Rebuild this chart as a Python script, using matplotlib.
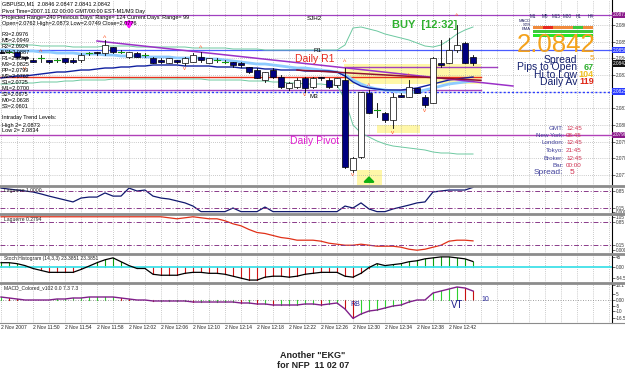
import matplotlib
matplotlib.use("Agg")
import matplotlib.pyplot as plt
from matplotlib.patches import Rectangle
from matplotlib.lines import Line2D

plt.rcParams['font.family'] = ['Liberation Sans', 'DejaVu Sans']

# ---------------- data ----------------
time_labels = ["2 Nov 2007", "2 Nov 11:50", "2 Nov 11:54", "2 Nov 11:58", "2 Nov 12:02",
               "2 Nov 12:06", "2 Nov 12:10", "2 Nov 12:14", "2 Nov 12:18", "2 Nov 12:22",
               "2 Nov 12:26", "2 Nov 12:30", "2 Nov 12:34", "2 Nov 12:38", "2 Nov 12:42"]

opens = [2.0849, 2.0849, 2.0849, 2.0846, 2.0844, 2.0845, 2.0844, 2.0844, 2.0845, 2.0844,
         2.0844, 2.0848, 2.0849, 2.0848, 2.0852, 2.0849, 2.0846, 2.0848, 2.0847, 2.0845,
         2.0844, 2.0842, 2.0844, 2.0842, 2.0843, 2.0846, 2.0842, 2.0844, 2.0843, 2.0843,
         2.0842, 2.0840, 2.0838, 2.0832, 2.0838, 2.0834, 2.0827, 2.0828, 2.0833, 2.0828,
         2.0834, 2.0832, 2.0829, 2.0832, 2.0778, 2.0786, 2.0824, 2.0814, 2.0812, 2.0808,
         2.0823, 2.0822, 2.0827, 2.0822, 2.0818, 2.0842, 2.0842, 2.0850, 2.0854, 2.0846]
highs = [2.0850, 2.0850, 2.0849, 2.0846, 2.0845, 2.0847, 2.0844, 2.0845, 2.0845, 2.0845,
         2.0848, 2.0849, 2.0849, 2.0856, 2.0852, 2.0850, 2.0849, 2.0849, 2.0848, 2.0846,
         2.0845, 2.0845, 2.0844, 2.0846, 2.0848, 2.0849, 2.0845, 2.0845, 2.0844, 2.0843,
         2.0843, 2.0840, 2.0839, 2.0837, 2.0839, 2.0835, 2.0831, 2.0833, 2.0834, 2.0834,
         2.0834, 2.0833, 2.0833, 2.0839, 2.0786, 2.0825, 2.0826, 2.0818, 2.0813, 2.0824,
         2.0824, 2.0832, 2.0827, 2.0823, 2.0846, 2.0856, 2.0857, 2.0865, 2.0855, 2.0847]
lows = [2.0848, 2.0848, 2.0845, 2.0844, 2.0843, 2.0843, 2.0842, 2.0843, 2.0842, 2.0842,
        2.0843, 2.0847, 2.0847, 2.0847, 2.0848, 2.0848, 2.0845, 2.0846, 2.0846, 2.0842,
        2.0842, 2.0842, 2.0842, 2.0841, 2.0843, 2.0843, 2.0842, 2.0843, 2.0842, 2.0840,
        2.0840, 2.0836, 2.0833, 2.0831, 2.0833, 2.0827, 2.0826, 2.0827, 2.0825, 2.0827,
        2.0832, 2.0827, 2.0828, 2.0779, 2.0777, 2.0785, 2.0812, 2.0810, 2.0807, 2.0803,
        2.0822, 2.0822, 2.0824, 2.0816, 2.0818, 2.0840, 2.0842, 2.0849, 2.0842, 2.0841]
closes = [2.0848, 2.0849, 2.0846, 2.0845, 2.0843, 2.0845, 2.0843, 2.0844, 2.0843, 2.0843,
          2.0847, 2.0848, 2.0848, 2.0853, 2.0849, 2.0849, 2.0849, 2.0846, 2.0847, 2.0842,
          2.0843, 2.0845, 2.0843, 2.0845, 2.0847, 2.0844, 2.0845, 2.0844, 2.0843, 2.0841,
          2.0841, 2.0837, 2.0833, 2.0837, 2.0834, 2.0828, 2.0830, 2.0832, 2.0827, 2.0833,
          2.0833, 2.0828, 2.0833, 2.0780, 2.0785, 2.0825, 2.0812, 2.0814, 2.0808, 2.0822,
          2.0822, 2.0828, 2.0824, 2.0817, 2.0845, 2.0841, 2.0850, 2.0853, 2.0842, 2.0842]

ma_navy = [2.08332, 2.08338, 2.08344, 2.08344, 2.08350, 2.08356, 2.08362, 2.08368, 2.08368, 2.08374,
           2.08380, 2.08380, 2.08386, 2.08392, 2.08392, 2.08398, 2.08398, 2.08404, 2.08404, 2.08410,
           2.08410, 2.08410, 2.08410, 2.08404, 2.08404, 2.08404, 2.08404, 2.08398, 2.08398, 2.08398,
           2.08392, 2.08392, 2.08392, 2.08386, 2.08386, 2.08380, 2.08380, 2.08380, 2.08374, 2.08374,
           2.08374, 2.08374, 2.08368, 2.08344, 2.08308, 2.08284, 2.08272, 2.08266, 2.08260, 2.08260,
           2.08260, 2.08266, 2.08272, 2.08284, 2.08296, 2.08308, 2.08320, 2.08326, 2.08332, 2.08338]
ma_light = [2.08500, 2.08500, 2.08494, 2.08494, 2.08494, 2.08488, 2.08488, 2.08482, 2.08482, 2.08482,
            2.08476, 2.08476, 2.08476, 2.08470, 2.08470, 2.08464, 2.08464, 2.08464, 2.08458, 2.08458,
            2.08458, 2.08458, 2.08452, 2.08452, 2.08452, 2.08452, 2.08446, 2.08446, 2.08440, 2.08434,
            2.08428, 2.08422, 2.08416, 2.08416, 2.08410, 2.08404, 2.08398, 2.08392, 2.08392, 2.08386,
            2.08380, 2.08374, 2.08368, 2.08350, 2.08320, 2.08296, 2.08278, 2.08266, 2.08260, 2.08254,
            2.08248, 2.08248, 2.08248, 2.08260, 2.08272, 2.08284, 2.08296, 2.08302, 2.08308, 2.08314]
bb_upper = [2.08536, 2.08536, 2.08530, 2.08530, 2.08530, 2.08524, 2.08524, 2.08524, 2.08524, 2.08518,
            2.08518, 2.08518, 2.08518, 2.08524, 2.08524, 2.08524, 2.08524, 2.08518, 2.08518, 2.08518,
            2.08518, 2.08518, 2.08518, 2.08518, 2.08512, 2.08512, 2.08512, 2.08512, 2.08512, 2.08506,
            2.08506, 2.08506, 2.08506, 2.08500, 2.08500, 2.08500, 2.08500, 2.08500, 2.08500, 2.08500,
            2.08500, 2.08500, 2.08500, 2.08530, 2.08632, 2.08638, 2.08626, 2.08614, 2.08596, 2.08584,
            2.08572, 2.08560, 2.08542, 2.08524, 2.08518, 2.08530, 2.08560, 2.08596, 2.08620, 2.08638]
bb_lower = [2.08296, 2.08296, 2.08302, 2.08302, 2.08302, 2.08308, 2.08308, 2.08308, 2.08314, 2.08314,
            2.08320, 2.08320, 2.08320, 2.08320, 2.08326, 2.08326, 2.08326, 2.08326, 2.08326, 2.08326,
            2.08326, 2.08326, 2.08326, 2.08326, 2.08326, 2.08326, 2.08320, 2.08320, 2.08320, 2.08320,
            2.08320, 2.08314, 2.08314, 2.08314, 2.08308, 2.08308, 2.08302, 2.08302, 2.08296, 2.08296,
            2.08296, 2.08290, 2.08290, 2.08200, 2.08050, 2.08002, 2.07978, 2.07954, 2.07936, 2.07924,
            2.07918, 2.07912, 2.07906, 2.07900, 2.07888, 2.07882, 2.07882, 2.07876, 2.07876, 2.07876]

# horizontal levels: price, first bar, last bar
level_prices = [2.0871, 2.0850, 2.0834, 2.0826, 2.0825, 2.0799, 2.0840]
level_from = [-1, -1, -1, -1, -1, -1, 43]
level_to = [77, 77, 60, 60, 77, 77, 62]
# trend lines (bar, price) endpoints
trend_x = [[12, 64], [37, 60]]
trend_p = [[2.08554, 2.08284], [2.08380, 2.08318]]
# highlighted zones: bar0, bar1, price low, price high
zone_b0 = [42.9, 47.0, 44.5]
zone_b1 = [60.0, 52.4, 47.6]
zone_lo = [2.08296, 2.08002, 2.07690]
zone_hi = [2.08416, 2.08050, 2.07780]
# fractal markers
frac_up_bar = [5, 13, 25, 43, 46, 51, 57]
frac_up_p = [2.08488, 2.08566, 2.08506, 2.08422, 2.08284, 2.08344, 2.08704]
frac_dn_bar = [3, 23, 38, 44, 49, 53]
frac_dn_p = [2.08386, 2.08392, 2.08230, 2.07750, 2.08002, 2.08134]

lag1 = [0.97, 0.93, 0.89, 0.85, 0.81, 0.73, 0.64, 0.56, 0.48, 0.40,
        0.56, 0.60, 0.60, 0.77, 0.64, 0.64, 0.97, 0.85, 0.89, 0.64,
        0.56, 0.52, 0.44, 0.36, 0.23, 0.00, 0.00, 0.00, 0.00, 0.15,
        0.00, 0.00, 0.00, 0.19, 0.00, 0.00, 0.00, 0.00, 0.00, 0.00,
        0.00, 0.00, 0.00, 0.23, 0.15, 0.36, 0.11, 0.00, 0.00, 0.11,
        0.19, 0.27, 0.36, 0.40, 0.81, 0.85, 0.89, 0.89, 0.89, 1.00]
lag2 = [1.00, 1.00, 1.00, 1.00, 1.00, 1.00, 1.00, 1.00, 1.00, 1.00,
        1.00, 1.00, 1.00, 1.00, 1.00, 1.00, 1.00, 1.00, 1.00, 1.00,
        1.00, 0.97, 0.94, 0.97, 1.00, 0.97, 0.94, 0.94, 0.88, 0.79,
        0.73, 0.62, 0.53, 0.50, 0.44, 0.38, 0.35, 0.30, 0.30, 0.30,
        0.27, 0.21, 0.18, 0.15, 0.15, 0.18, 0.15, 0.12, 0.12, 0.12,
        0.09, 0.03, 0.00, 0.03, 0.09, 0.15, 0.27, 0.30, 0.30, 0.28]
stoch = [18, 18, 13.5, 4.5, -9, -18, -27, -27, -27, -27,
         -13.5, 2, 18, 31.5, 40.5, 22.5, 4.5, -9, -9, -36,
         -40.5, -40.5, -40.5, -31.5, -27, -27, -31.5, -31.5, -36, -45,
         -54, -63, -63, -49.5, -45, -45, -49.5, -45, -36, -31.5,
         -27, -27, -27, -45, -49.5, -31.5, -4.5, 13.5, 4.5, 9,
         13.5, 22.5, 27, 36, 40.5, 45, 45, 40.5, 36, 23.4]
macd = [2.7, 1.8, 0.9, 0.0, 0.0, 0.0, 0.0, 0.9, 0.9, 1.8,
        1.8, 2.7, 2.7, 2.7, 2.7, 1.8, 0.9, 0.0, 0.0, -0.9,
        -0.9, -0.9, -0.9, -0.9, -1.8, -1.8, -1.8, -1.8, -1.8, -1.8,
        -2.7, -2.7, -3.6, -3.6, -4.5, -4.5, -4.5, -4.5, -3.6, -3.6,
        -4.5, -3.6, -2.7, -8.1, -16.5, -12.6, -9.9, -9.0, -7.2, -5.4,
        -4.5, -1.8, 0.0, 0.0, 6.3, 8.1, 9.9, 11.7, 10.8, 8.1]

panel_titles = ["Laguerre 1.0000", "Laguerre 0.2794",
                "Stoch Histogram (14,3,3) 23.3851 23.3851", "MACD_Colored_v102 0.0 7.3 7.3"]
tf_names = ["M1", "M5", "M15", "M30", "H1", "H4"]
row_names = ["MACD", "STR", "EMA"]
signal_colors = [["#f08a3c", "#e8281e", "#f08a3c", "#f08a3c", "#3cc83c", "#f08a3c"],
                 ["#3cc83c", "#3cc83c", "#3cc83c", "#3cc83c", "#3cc83c", "#3cc83c"],
                 ["#28e628", "#28e628", "#28e628", "#28e628", "#28e628", "#28e628"]]
pivot_names = ["R3", "M5", "R2", "M4", "R1", "M3", "PP", "M2", "S1", "M1", "S2", "M0", "S3"]
pivot_vals = [2.0976, 2.0949, 2.0924, 2.0887, 2.0850, 2.0825, 2.0799, 2.0762, 2.0725,
              2.0700, 2.0675, 2.0638, 2.0601]
clock_names = ["GMT:", "New York:", "London:", "Tokyo:", "Broker:", "Bar:"]
clock_vals = ["12:45", "08:45", "12:45", "21:45", "12:45", "00:00"]
spread, pips_open, hi_low, daily_av = 5, 67, 104, 119

# ---------------- layout helpers ----------------
W, H = 625, 382
fig = plt.figure(figsize=(W / 100, H / 100), dpi=100)
fig.patch.set_facecolor("white")
XR = 612  # right edge of the plotting area in px


def T(x, y, s, **kw):
    kw.setdefault("fontsize", 4)
    kw.setdefault("va", "center")
    return fig.text(x / W, 1 - y / H, s, **kw)


def panel(y0, y1):
    ax = fig.add_axes([0, 1 - y1 / H, XR / W, (y1 - y0) / H])
    ax.set_xlim(-0.125, (XR - 1) / 8)
    for s in ["top", "left", "bottom"]:
        ax.spines[s].set_visible(False)
    ax.spines["right"].set_linewidth(0.8)
    ax.yaxis.tick_right()
    ax.tick_params(axis="y", length=2, width=0.5, labelsize=3.3, pad=1, colors="#333333")
    ax.tick_params(axis="x", length=0, labelbottom=False)
    ax.set_xticks(range(0, 77, 2))
    ax.grid(True, axis="x", color="#9a9a9a", linestyle=(0, (1, 2)), linewidth=0.5)
    ax.set_axisbelow(True)
    return ax


n = len(closes)
bars = list(range(n))

# ---------------- main chart ----------------
ax = panel(0, 185)
ax.set_ylim(2.0769, 2.0880)
ticks = [2.0775 + 0.001 * k for k in range(10)]
ax.set_yticks(ticks)
ax.set_yticklabels([f"{t:.4f}" for t in ticks])
ax.grid(True, axis="y", color="#9a9a9a", linestyle=(0, (1, 2)), linewidth=0.5)

for b0, b1, lo, hi in zip(zone_b0, zone_b1, zone_lo, zone_hi):
    ax.add_patch(Rectangle((b0, lo), b1 - b0, hi - lo, facecolor="#fff7a8", edgecolor="none", zorder=0.5))

lvl_col = ["#a040c0", "#4a5cff", "#e8301c", "#a040c0", "#2a3cff", "#b040b8", "#a040c0"]
lvl_ls = ["-", "-", "-", "-", (0, (1.5, 1.5)), "-", "-"]
lvl_lw = [0.9, 0.9, 1.0, 1.0, 1.0, 1.0, 1.0]
for p, a, b, c, ls, lw in zip(level_prices, level_from, level_to, lvl_col, lvl_ls, lvl_lw):
    ax.plot([a, b], [p, p], color=c, ls=ls, lw=lw, zorder=1)

ax.plot(bars, bb_upper, color="#6cc8a0", lw=0.7, zorder=1.2)
ax.plot(bars, bb_lower, color="#6cc8a0", lw=0.7, zorder=1.2)
ax.plot(bars, ma_light, color="#8ecbff", lw=2.0, zorder=1.4)
ax.plot(bars, ma_navy, color="#1020a0", lw=1.0, zorder=1.5)
ax.plot(trend_x[0], trend_p[0], color="#9b30c8", lw=1.1, zorder=1.6)
ax.plot(trend_x[1], trend_p[1], color="#901030", lw=1.1, zorder=1.6)

for i, (o, h, l, c) in enumerate(zip(opens, highs, lows, closes)):
    ax.plot([i, i], [l, h], color="black", lw=0.6, zorder=3)
    if c < o:
        ax.add_patch(Rectangle((i - 0.33, c), 0.66, o - c, facecolor="#000080", edgecolor="black", lw=0.5, zorder=3.1))
    elif c > o:
        ax.add_patch(Rectangle((i - 0.33, o), 0.66, c - o, facecolor="white", edgecolor="black", lw=0.5, zorder=3.1))
    else:
        ax.plot([i - 0.4, i + 0.4], [o, o], color="#10a010", lw=0.8, zorder=3.1)

for b, p in zip(frac_up_bar, frac_up_p):
    ax.text(b, p, "^", color="#ff5a28", fontsize=5, ha="center", va="center", zorder=4)
for b, p in zip(frac_dn_bar, frac_dn_p):
    ax.text(b, p, "v", color="#ff5a28", fontsize=4.5, ha="center", va="center", zorder=4)

ax.annotate("", xy=(16, 2.0861), xytext=(16, 2.0869),
            arrowprops=dict(arrowstyle="-|>,head_width=0.25,head_length=0.35", color="#ff10ff", lw=1.6), zorder=4)
ax.annotate("", xy=(46, 2.0776), xytext=(46, 2.07705),
            arrowprops=dict(arrowstyle="-|>,head_width=0.3,head_length=0.3", color="#10b010", lw=1.6), zorder=4)

# right-side price boxes
box_prices = [2.0871, 2.0850, closes[-1], 2.0825, 2.0799]
box_cols = ["#8a1a8a", "#2a3cff", "#111111", "#2a3cff", "#8a1a8a"]
for p, c in zip(box_prices, box_cols):
    ax.text(1.002, p, f"{p:.4f}", transform=ax.get_yaxis_transform(), fontsize=3.4, color="white",
            va="center", ha="left", clip_on=False,
            bbox=dict(boxstyle="square,pad=0.2", fc=c, ec="none"))

# ---------------- Laguerre 1 ----------------
a1 = panel(186, 213)
a1.set_ylim(-0.056, 1.056)
a1.plot(bars, lag1, color="#10186e", lw=0.9)
for lv in (0.85, 0.15):
    a1.axhline(lv, color="#8a3a8a", lw=0.7, ls=(0, (5, 2, 1, 2)))
a1.set_yticks([0.85, 0.15, 0.0])
a1.set_yticklabels(["0.85", "0.15", "0.000"])

# ---------------- Laguerre 2 ----------------
a2 = panel(214, 253)
a2.set_ylim(-0.083, 1.083)
a2.plot(bars, lag2, color="#e03018", lw=0.9)
for lv in (0.85, 0.15):
    a2.axhline(lv, color="#8a3a8a", lw=0.7, ls=(0, (5, 2, 1, 2)))
a2.set_yticks([1.0, 0.85, 0.15, 0.0])
a2.set_yticklabels(["1.05", "0.85", "0.15", "0.000"])

# ---------------- Stoch histogram ----------------
a3 = panel(254, 282)
a3.set_ylim(-72, 58.5)
for i, v in enumerate(stoch):
    a3.plot([i, i], [0, v], color="#10a010" if v > 0 else "#d01818", lw=0.8)
a3.axhline(0, color="#40e0e8", lw=1.3)
a3.plot(bars, stoch, color="black", lw=0.9)
a3.set_yticks([45, 0, -54.52])
a3.set_yticklabels(["45", "0.00", "-54.52"])

# ---------------- MACD ----------------
a4 = panel(283, 323)
a4.set_ylim(-20.7, 15.3)
for i, v in enumerate(macd):
    rising = i == 0 or v >= macd[i - 1]
    a4.plot([i, i], [0, v], color="#30d030" if rising else "#c81010", lw=0.8)
a4.axhline(0, color="#808080", lw=0.6, ls=(0, (1, 2)))
a4.plot(bars, macd, color="#80208a", lw=1.0)
a4.set_yticks([13.5, 5, 0, -5, -10, -16.5])
a4.set_yticklabels(["18.1", "5", "0.00", "-5", "-10", "-16.5"])
a4.text(44.3, -4.5, "RB", color="#2a2a9a", fontsize=5, ha="center", va="center")
a4.text(57, -4.8, "VT", color="#1a1a8a", fontsize=7, ha="center", va="center")
a4.text(60, 0.5, "10", color="#2a2a9a", fontsize=5, ha="left", va="center")
for k, lab in enumerate(time_labels):
    a4.text(4 * k, -0.06, lab, transform=a4.get_xaxis_transform(), fontsize=3.6,
            ha="left", va="top", color="#222222")

for axp, title in zip((a1, a2, a3, a4), panel_titles):
    axp.text(0.006, 0.93, title, transform=axp.transAxes, fontsize=3.6, ha="left", va="top",
             color="#222222", zorder=5)

# panel separators
for ys in (185.5, 213.5, 253.5, 282.5):
    fig.add_artist(Line2D([0, 1], [1 - ys / H] * 2, color="#8c8c8c", lw=2.0))
fig.add_artist(Line2D([0, 1], [1 - 323 / H] * 2, color="#8c8c8c", lw=0.8))

# ---------------- texts main ----------------
T(2, 4, f"GBPUSD,M1  {opens[-1]:.4f} {highs[-1]:.4f} {lows[-1]:.4f} {closes[-1]:.4f}")
T(2, 11, "Pivot Time=2007.11.02 00:00 GMT/00:00 EST-M1/M3 Day")
T(2, 17, "Projected Range=240 Previous Days' Range= 124 Current Days' Range= 99")
T(2, 23, "Open=2.0762 High=2.0873 Low=2.0749 Close=2.0776")
for k, (nm, v) in enumerate(zip(pivot_names, pivot_vals)):
    T(2, 34 + 6 * k, f"{nm}={v:.4f}")
T(2, 118, "Intraday Trend Levels:")
T(2, 125, "High 2= 2.0873")
T(2, 131, "Low 2= 2.0834")

T(307, 18, "SJH2", fontsize=4.5)
T(313, 51, "R1", fontsize=4.5)
T(295, 59, "Daily R1", fontsize=7.5, color="#e8281e")
T(309, 97, "M3", fontsize=4.5)
T(290, 141, "Daily Pivot", fontsize=7.5, color="#e020d0")
T(392, 25, "BUY  [12:32]", fontsize=8, color="#30b030", fontweight="bold")

# dashboard
for k, nm in enumerate(tf_names):
    T(533 + 11.5 * k, 16, nm, fontsize=3.3, ha="center", color="#202060")
for r, nm in enumerate(row_names):
    T(531, 21 + 4 * r, nm, fontsize=3.0, ha="right", color="#202060")
for r, row in enumerate(signal_colors):
    for k, c in enumerate(row):
        fig.add_artist(Rectangle(((533 + 10 * k) / W, 1 - (29 + 4 * r) / H), 10 / W, 3 / H,
                                 facecolor=c, edgecolor="none", transform=fig.transFigure))
T(556, 45, f"{closes[-1]:.4f}", fontsize=18.5, color="#f4a21c", ha="center")
T(577, 60, "Spread", fontsize=7.5, color="#14206e", ha="right")
T(590, 59, f"{spread}", fontsize=6, color="#f4a21c", ha="left")
T(577, 67, "Pips to Open", fontsize=7.5, color="#14206e", ha="right")
T(584, 67, f"{pips_open}", fontsize=6.5, color="#30b030", ha="left", fontweight="bold")
T(577, 74.5, "Hi to Low", fontsize=7.5, color="#14206e", ha="right")
T(578, 74.5, f"{hi_low}", fontsize=6.5, color="#f0c020", ha="left", fontweight="bold")
T(578, 82, "Daily Av", fontsize=7.5, color="#14206e", ha="right")
T(579, 82, f"{daily_av}", fontsize=6.5, color="#e02818", ha="left", fontweight="bold")

for k, (nm, v) in enumerate(zip(clock_names, clock_vals)):
    T(564, 128 + 7.5 * k, nm, fontsize=4.5, color="#40409a", ha="right")
    T(566, 128 + 7.5 * k, v, fontsize=4.5, color="#d03050", ha="left")
T(563, 173, "Spread:", fontsize=6, color="#40409a", ha="right")
T(570, 173, f"{spread}", fontsize=6, color="#d03050", ha="left")

# ---------------- caption ----------------
T(313, 355, 'Another "EKG"', fontsize=6.5, ha="center", fontweight="bold", color="#222222")
T(313, 366, "for NFP  11 02 07", fontsize=6.5, ha="center", fontweight="bold", color="#222222")

fig.savefig("out.png", dpi=100, facecolor="white")
